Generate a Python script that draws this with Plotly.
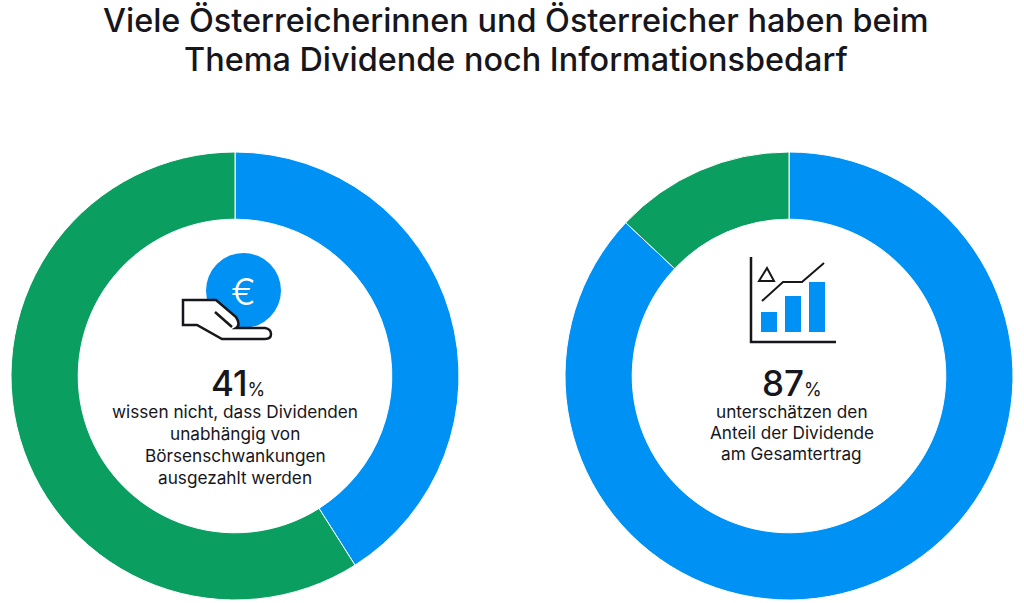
import plotly.graph_objects as go

title_lines = ["Viele Österreicherinnen und Österreicher haben beim", "Thema Dividende noch Informationsbedarf"]
slice_labels = ["Ja", "Nein"]
left_values = [41, 59]
right_values = [87, 13]
left_text = ["wissen nicht, dass Dividenden", "unabhängig von", "Börsenschwankungen", "ausgezahlt werden"]
right_text = ["unterschätzen den", "Anteil der Dividende", "am Gesamtertrag"]

BLUE = "#0091F5"
GREEN = "#0A9E60"
INK = "#16161C"
FONT = "Inter, Roboto, sans-serif"
W, H = 1024, 603
R = 224
CY = 376


def pie(values, cx):
    return go.Pie(
        labels=slice_labels, values=values, hole=0.70, sort=False, direction="clockwise",
        rotation=0, textinfo="none", hoverinfo="skip", showlegend=False,
        marker=dict(colors=[BLUE, GREEN], line=dict(color="white", width=1)),
        domain=dict(x=[(cx - R) / W, (cx + R) / W], y=[1 - (CY + R) / H, 1 - (CY - R) / H]),
    )


fig = go.Figure([pie(left_values, 235), pie(right_values, 789)])


def shape(path, fill="rgba(0,0,0,0)", color=INK, width=2.5):
    return dict(type="path", xref="x", yref="y", path=path, fillcolor=fill, layer="above",
                line=dict(color=color, width=width))


shapes = [
    dict(type="circle", xref="x", yref="y", x0=206, x1=281, y0=253, y1=328, fillcolor=BLUE,
         line=dict(width=0), layer="above"),
    shape("M183,300 L216,300 L236,317 Q241,325 236,328 L265,328 Q271,329 271,334 Q271,339 265,339 "
          "L222,339 L197,325 L183,325 Z", fill="white"),
    shape("M215,312 L232,327"),
    shape("M751,257 L751,342 L836,342"),
    shape("M761,312 H777 V332 H761 Z", fill=BLUE, color=BLUE, width=0),
    shape("M785,296 H801 V332 H785 Z", fill=BLUE, color=BLUE, width=0),
    shape("M809,282 H825 V332 H809 Z", fill=BLUE, color=BLUE, width=0),
    shape("M762,301 L783,282 L802,282 L824,263", width=2),
    shape("M767,268 L759,281 L774,281 Z", width=2),
]


def note(x, y, text, size, color=INK, weight=400):
    return dict(xref="x", yref="y", x=x, y=y, text=text, showarrow=False, xanchor="center",
                yanchor="middle", font=dict(family=FONT, size=size, color=color, weight=weight))


annotations = [
    note(516, 20, title_lines[0], 32.4, weight=500),
    note(516, 59, title_lines[1], 32.4, weight=500),
    note(243, 291, "€", 37, "white", 300),
    note(237.5, 383, "41<span style='font-size:18px;font-weight:400'>%</span>", 35, weight=500),
    note(792, 383, "87<span style='font-size:18px;font-weight:400'>%</span>", 35, weight=500),
]
for i, line in enumerate(left_text):
    annotations.append(note(235, 411 + i * 22, line, 17.2))
for i, line in enumerate(right_text):
    annotations.append(note(791.5, 411 + i * 21, line, 17.2))

fig.update_layout(
    width=W, height=H, margin=dict(l=0, r=0, t=0, b=0),
    paper_bgcolor="white", plot_bgcolor="rgba(0,0,0,0)",
    xaxis=dict(range=[0, W], visible=False, domain=[0, 1], fixedrange=True),
    yaxis=dict(range=[H, 0], visible=False, domain=[0, 1], fixedrange=True),
    shapes=shapes, annotations=annotations,
)
fig.write_html("out.html", config=dict(displayModeBar=False),
               post_script="document.body.style.margin='0';document.documentElement.style.overflow='hidden';")
